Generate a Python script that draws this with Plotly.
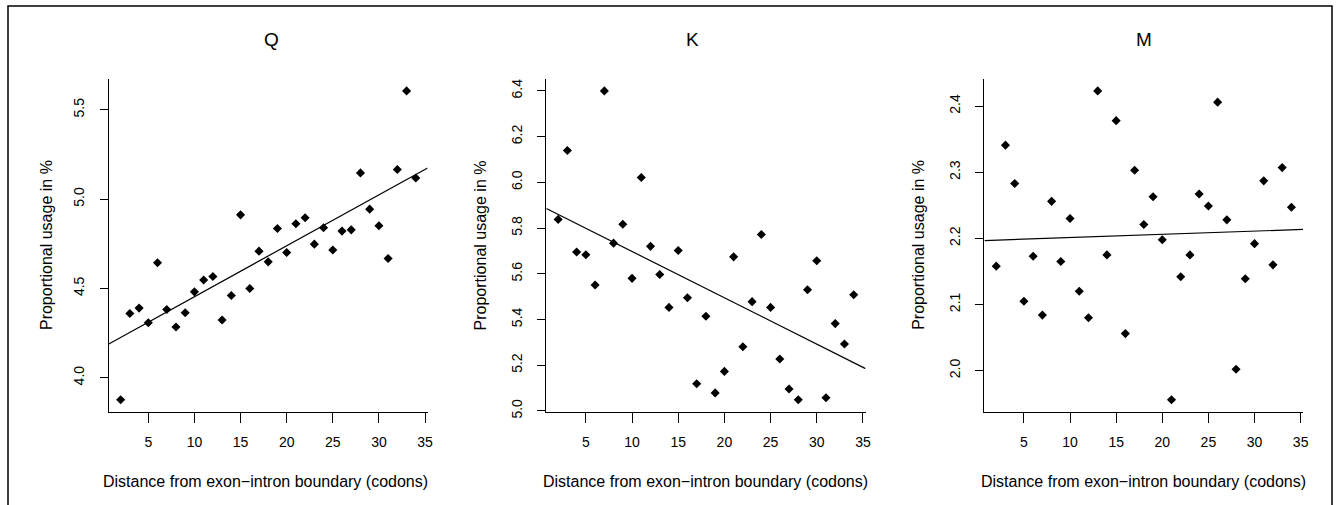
import numpy as np
import plotly.graph_objects as go

W, H = 1338, 505

codons = list(range(2, 35))

q_usage = [3.877, 4.360, 4.390, 4.308, 4.644, 4.382, 4.284, 4.364, 4.481, 4.547,
           4.567, 4.323, 4.461, 4.912, 4.500, 4.709, 4.649, 4.836, 4.701, 4.862,
           4.896, 4.748, 4.840, 4.715, 4.821, 4.828, 5.147, 4.944, 4.851, 4.668,
           5.166, 5.606, 5.118]

k_usage = [5.838, 6.139, 5.695, 5.683, 5.551, 6.400, 5.734, 5.817, 5.580, 6.021,
           5.720, 5.597, 5.453, 5.702, 5.495, 5.119, 5.414, 5.079, 5.173, 5.674,
           5.281, 5.478, 5.772, 5.453, 5.227, 5.096, 5.049, 5.530, 5.657, 5.058,
           5.382, 5.293, 5.508]

m_usage = [2.158, 2.341, 2.283, 2.105, 2.173, 2.084, 2.256, 2.165, 2.230, 2.120,
           2.080, 2.423, 2.175, 2.378, 2.056, 2.303, 2.221, 2.263, 2.198, 1.956,
           2.142, 2.175, 2.267, 2.249, 2.406, 2.228, 2.002, 2.139, 2.192, 2.287,
           2.160, 2.307, 2.247]

panel_titles = ["Q", "K", "M"]
x_ticks = [5, 10, 15, 20, 25, 30, 35]
y_ticks = [[4.0, 4.5, 5.0, 5.5],
           [5.0, 5.2, 5.4, 5.6, 5.8, 6.0, 6.2, 6.4],
           [2.0, 2.1, 2.2, 2.3, 2.4]]
y_ticktext = [["4.0", "4.5", "5.0", "5.5"],
              ["5.0", "5.2", "5.4", "5.6", "5.8", "6.0", "6.2", "6.4"],
              ["2.0", "2.1", "2.2", "2.3", "2.4"]]
x_label = "Distance from exon\u2212intron boundary (codons)"
y_label = "Proportional usage in %"

# layout (target pixels)
left_px = [108.8, 546.2, 984.2]
right_px = [427.5, 865.3, 1302.9]
top_px, bottom_px = 78.3, 410.8
title_x_px = [271.7, 692.7, 1143.3]
title_y_px = 39.3
xlab_x_px = [265.5, 705.3, 1142.8]
xlab_y_px = 480
ylab_x_px = [46.7, 480, 918.3]

# compensation for the capture scaling observed in the renders
KX, KY = 1.004, 1.0152

def px(x):
    return min(x * KX, W) / W

def py(y):
    return max(1 - (y * KY) / H, 0)

FONT = "Liberation Sans, Arial, Helvetica, sans-serif"

def r_range(v):
    lo, hi = min(v), max(v)
    d = (hi - lo) * 0.04
    return [lo - d, hi + d]

fig = go.Figure()
series = [q_usage, k_usage, m_usage]
annotations = []
for i, ys in enumerate(series):
    n = "" if i == 0 else str(i + 1)
    xr = r_range(codons)
    yr = r_range(ys)
    fig.add_trace(go.Scatter(
        x=codons, y=ys, mode="markers",
        marker=dict(symbol="diamond", size=7, color="black", line=dict(width=0)),
        xaxis="x" + n, yaxis="y" + n, showlegend=False, hoverinfo="x+y"))
    slope, icpt = np.polyfit(codons, ys, 1)
    lx = np.array(xr)
    fig.add_trace(go.Scatter(
        x=lx, y=icpt + slope * lx, mode="lines",
        line=dict(color="black", width=1.2),
        xaxis="x" + n, yaxis="y" + n, showlegend=False, hoverinfo="skip"))
    fig.update_layout(**{
        "xaxis" + n: dict(
            domain=[px(left_px[i]), px(right_px[i])], range=xr,
            anchor="y" + n, showline=True, linecolor="black", linewidth=1.2,
            ticks="outside", ticklen=10, tickwidth=1.2, tickcolor="black",
            tickvals=x_ticks, showgrid=False, zeroline=False,
            ticklabelstandoff=7,
            tickfont=dict(family=FONT, size=14, color="black")),
        "yaxis" + n: dict(
            domain=[py(bottom_px), py(top_px)], range=yr,
            anchor="x" + n, showline=True, linecolor="black", linewidth=1.2,
            ticks="outside", ticklen=8, tickwidth=1.2, tickcolor="black",
            tickvals=y_ticks[i], ticktext=y_ticktext[i], tickangle=-90,
            showgrid=False, zeroline=False, ticklabelstandoff=10,
            tickfont=dict(family=FONT, size=14, color="black")),
    })
    annotations.append(dict(text=panel_titles[i], xref="paper", yref="paper",
                            x=px(title_x_px[i]), y=py(title_y_px),
                            xanchor="center", yanchor="middle", showarrow=False,
                            font=dict(family=FONT, size=19, color="black")))
    annotations.append(dict(text=x_label, xref="paper", yref="paper",
                            x=px(xlab_x_px[i]), y=py(xlab_y_px),
                            xanchor="center", yanchor="middle", showarrow=False,
                            font=dict(family=FONT, size=16, color="black")))
    annotations.append(dict(text=y_label, xref="paper", yref="paper",
                            x=px(ylab_x_px[i]), y=py((top_px + bottom_px) / 2),
                            xanchor="center", yanchor="middle", showarrow=False,
                            textangle=-90,
                            font=dict(family=FONT, size=16, color="black")))

fig.update_layout(
    width=W, height=H, autosize=False, margin=dict(l=0, r=0, t=0, b=0),
    paper_bgcolor="white", plot_bgcolor="white",
    annotations=annotations,
    shapes=[dict(type="rect", xref="paper", yref="paper",
                 x0=px(8), x1=min(px(1335), (W - 1) / W), y0=-0.05, y1=py(6),
                 line=dict(color="black", width=1.5), fillcolor="rgba(0,0,0,0)",
                 layer="below")],
)

post = (
    "document.documentElement.style.margin='0';"
    "document.documentElement.style.overflow='hidden';"
    "document.body.style.margin='0';"
    "document.body.style.overflow='hidden';"
    "var gd=document.querySelector('.plotly-graph-div');"
    "gd.style.position='fixed';gd.style.top='0';gd.style.left='0';"
)

fig.write_html("out.html",
               config={"displayModeBar": False, "responsive": False},
               post_script=post)
